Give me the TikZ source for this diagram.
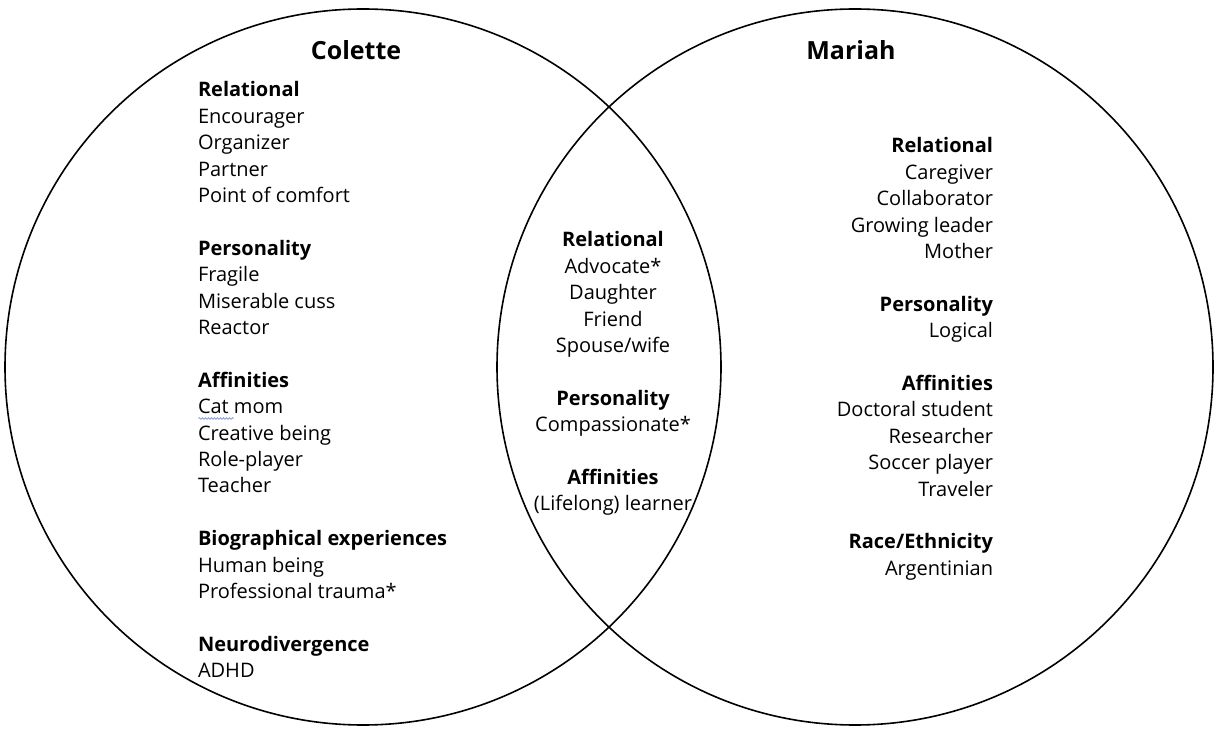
\documentclass[tikz,border=0pt]{standalone}
\usepackage{fontspec}
\setmainfont{Open Sans}
\usetikzlibrary{decorations.pathmorphing}

\begin{document}
\begin{tikzpicture}[x=1pt,y=1pt,
  persontitle/.style={text=drawColor,anchor=base,inner sep=0pt,outer sep=0pt,font=\fontsize{25}{30}\selectfont\bfseries},
  head/.style={text=drawColor,inner sep=0pt,outer sep=0pt,font=\fontsize{20}{24}\selectfont\bfseries},
  item/.style={text=drawColor,inner sep=0pt,outer sep=0pt,font=\fontsize{20}{24}\selectfont}]
\definecolor{fillColor}{RGB}{255,255,255}
\definecolor{drawColor}{RGB}{0,0,0}
\definecolor{spellColor}{RGB}{140,165,230}
\path[use as bounding box,fill=fillColor] (0,0) rectangle (1214,728);

% the two sets
\path[draw=drawColor,line width= 1.6pt] (363.00,361.00) circle (358.00);
\path[draw=drawColor,line width= 1.6pt] (855.00,361.00) circle (358.00);

\node (colette) [persontitle] at (356.00,668.00) {Colette};
\node (mariah) [persontitle] at (851.00,668.00) {Mariah};

% Colette only
\begin{scope}[every node/.append style={anchor=base west}]
\node (lrel) [head] at (198.00,631.00) {Relational};
\node (lenc) [item] at (198.00,604.60) {Encourager};
\node (lorg) [item] at (198.00,578.20) {Organizer};
\node (lpar) [item] at (198.00,551.80) {Partner};
\node (lpoc) [item] at (198.00,525.40) {Point of comfort};

\node (lper) [head] at (198.00,472.60) {Personality};
\node (lfra) [item] at (198.00,446.20) {Fragile};
\node (lmis) [item] at (198.00,419.80) {Miserable cuss};
\node (lrea) [item] at (198.00,393.40) {Reactor};

\node (laff) [head] at (198.00,340.60) {Affinities};
\node (lcat) [item] at (198.00,314.20) {Cat mom};
\node (lcre) [item] at (198.00,287.80) {Creative being};
\node (lrol) [item] at (198.00,261.40) {Role-player};
\node (ltea) [item] at (198.00,235.00) {Teacher};

\node (lbio) [head] at (198.00,182.20) {Biographical experiences};
\node (lhum) [item] at (198.00,155.80) {Human being};
\node (lpro) [item] at (198.00,129.40) {Professional trauma*};

\node (lneu) [head] at (198.00, 76.60) {Neurodivergence};
\node (ladh) [item] at (198.00, 50.20) {ADHD};
\end{scope}

\path[draw=spellColor,line width= 0.9pt,decorate,
  decoration={snake,amplitude=0.8pt,segment length=3pt}] (198.50,309.50) -- (233.50,309.50);

% shared
\begin{scope}[every node/.append style={anchor=base}]
\node (crel) [head] at (613.00,481.00) {Relational};
\node (cadv) [item] at (613.00,454.60) {Advocate*};
\node (cdau) [item] at (613.00,428.20) {Daughter};
\node (cfri) [item] at (613.00,401.80) {Friend};
\node (cspo) [item] at (613.00,375.40) {Spouse/wife};

\node (cper) [head] at (613.00,322.60) {Personality};
\node (ccom) [item] at (613.00,296.20) {Compassionate*};

\node (caff) [head] at (613.00,243.40) {Affinities};
\node (clea) [item] at (613.00,217.00) {(Lifelong) learner};
\end{scope}

% Mariah only
\begin{scope}[every node/.append style={anchor=base east}]
\node (rrel) [head] at (993.00,575.00) {Relational};
\node (rcar) [item] at (993.00,548.60) {Caregiver};
\node (rcol) [item] at (993.00,522.20) {Collaborator};
\node (rgro) [item] at (993.00,495.80) {Growing leader};
\node (rmot) [item] at (993.00,469.40) {Mother};

\node (rper) [head] at (993.00,416.60) {Personality};
\node (rlog) [item] at (993.00,390.20) {Logical};

\node (raff) [head] at (993.00,337.40) {Affinities};
\node (rdoc) [item] at (993.00,311.00) {Doctoral student};
\node (rres) [item] at (993.00,284.60) {Researcher};
\node (rsoc) [item] at (993.00,258.20) {Soccer player};
\node (rtra) [item] at (993.00,231.80) {Traveler};

\node (rrac) [head] at (993.00,179.00) {Race/Ethnicity};
\node (rarg) [item] at (993.00,152.60) {Argentinian};
\end{scope}
\end{tikzpicture}
\end{document}
